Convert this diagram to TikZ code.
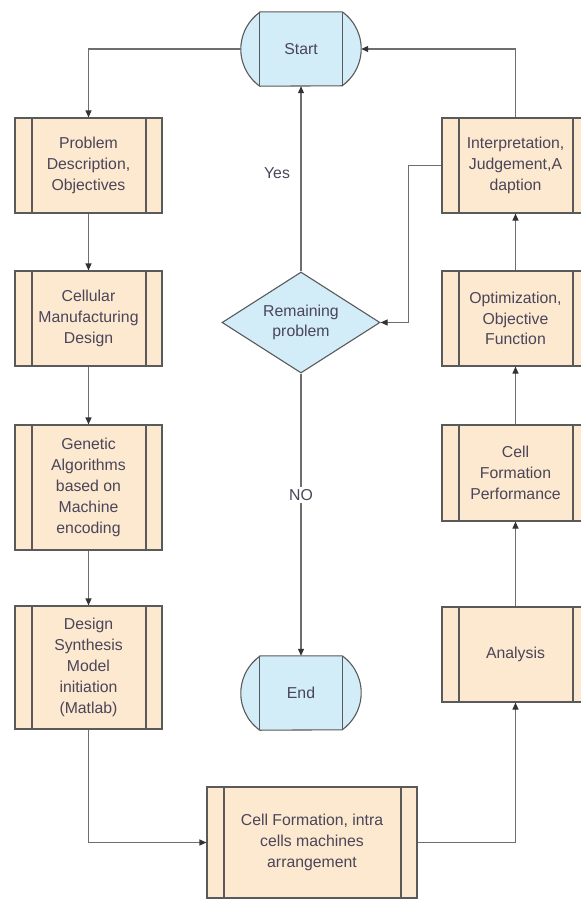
\documentclass[tikz,border=0pt]{standalone}
\usepackage{fontspec}
\setmainfont{Liberation Sans}
\usetikzlibrary{shapes.geometric,arrows.meta,backgrounds,calc}
\definecolor{pfill}{HTML}{FDE9D0}
\definecolor{tfill}{HTML}{D2ECF8}
\definecolor{bd}{HTML}{5A5A5A}
\definecolor{ln}{HTML}{6E6E6E}
\definecolor{txt}{HTML}{4A4558}
\begin{document}
\begin{tikzpicture}[x=1pt,y=1pt,
  every node/.style={font=\fontsize{15.8}{20.8}\selectfont, text=txt},
  proc/.style={draw=bd, fill=pfill, line width=1.1pt, minimum width=147pt, inner sep=0pt, align=center,
    path picture={\draw[bd, line width=1.1pt]
      ([xshift=17pt]path picture bounding box.north west) -- ([xshift=17pt]path picture bounding box.south west)
      ([xshift=-16pt]path picture bounding box.north east) -- ([xshift=-16pt]path picture bounding box.south east);}},
  term/.style={minimum width=120pt, minimum height=74pt, inner sep=0pt},
  dec/.style={diamond, aspect=1.564, draw=bd, fill=tfill, line width=1.1pt, minimum width=158pt, minimum height=101pt, inner sep=0pt, align=center},
  arr/.style={ln, line width=1.1pt, -{Triangle[length=7pt,width=6pt,color=black!80]}},
  lbl/.style={inner sep=2pt}
]
\useasboundingbox (0,0) rectangle (581,-900);

% terminals
\node[term] (start) at (301,-49) {Start};
\node[term] (end) at (301,-693) {End};

% decision
\node[dec] (dia) at (301,-322.5) {Remaining\\problem};

% left column
\node[proc, minimum height=95pt] (p1) at (88.5,-165.5) {Problem\\Description,\\Objectives};
\node[proc, minimum height=95pt] (p2) at (88.5,-318.5) {Cellular\\Manufacturing\\Design};
\node[proc, minimum height=125pt] (p3) at (88.5,-487.5) {Genetic\\Algorithms\\based on\\Machine\\encoding};
\node[proc, minimum height=123pt] (p4) at (88.5,-667.5) {Design\\Synthesis\\Model\\initiation\\(Matlab)};

% bottom
\node[proc, minimum width=210pt, minimum height=111pt] (bot) at (312,-842.5) {Cell Formation, intra\\cells machines\\arrangement};

% right column
\node[proc, minimum height=95pt] (r1) at (515.5,-654.5) {Analysis};
\node[proc, minimum height=96pt] (r2) at (515.5,-473) {Cell\\Formation\\Performance};
\node[proc, minimum height=95pt] (r3) at (515.5,-318.5) {Optimization,\\Objective\\Function};
\node[proc, minimum height=95pt] (r4) at (515.5,-165.5) {Interpretation,\\Judgement,A\\daption};

% terminal shapes
\begin{scope}[on background layer]
\foreach \n in {start,end}{
  \filldraw[draw=bd, fill=tfill, line width=1.1pt]
    ([xshift=19pt]\n.north west) -- ([xshift=-19pt]\n.north east)
    arc[start angle=54.4, end angle=-54.4, radius=45.5pt]
    -- ([xshift=19pt]\n.south west)
    arc[start angle=234.4, end angle=125.6, radius=45.5pt] -- cycle;
  \draw[bd, line width=1.1pt]
    ([xshift=19pt]\n.north west) -- ([xshift=19pt]\n.south west)
    ([xshift=-19pt]\n.north east) -- ([xshift=-19pt]\n.south east);
}
\end{scope}

% connectors
\draw[arr] (start.west) -| (p1.north);
\draw[arr] (p1.south) -- (p2.north);
\draw[arr] (p2.south) -- (p3.north);
\draw[arr] (p3.south) -- (p4.north);
\draw[arr] (p4.south) |- (bot.west);
\draw[arr] (bot.east) -| (r1.south);
\draw[arr] (r1.north) -- (r2.south);
\draw[arr] (r2.north) -- (r3.south);
\draw[arr] (r3.north) -- (r4.south);
\draw[arr] (r4.north) |- (start.east);
\draw[arr] (r4.west) -- ++(-33,0) |- (dia.east);
\draw[arr] (dia.north) -- (start.south);
\draw[arr] (dia.south) -- (end.north);

% labels
\node[lbl] (yes) at (277,-173) {Yes};
\node[lbl, fill=white] (no) at (301,-495) {NO};
\end{tikzpicture}
\end{document}
